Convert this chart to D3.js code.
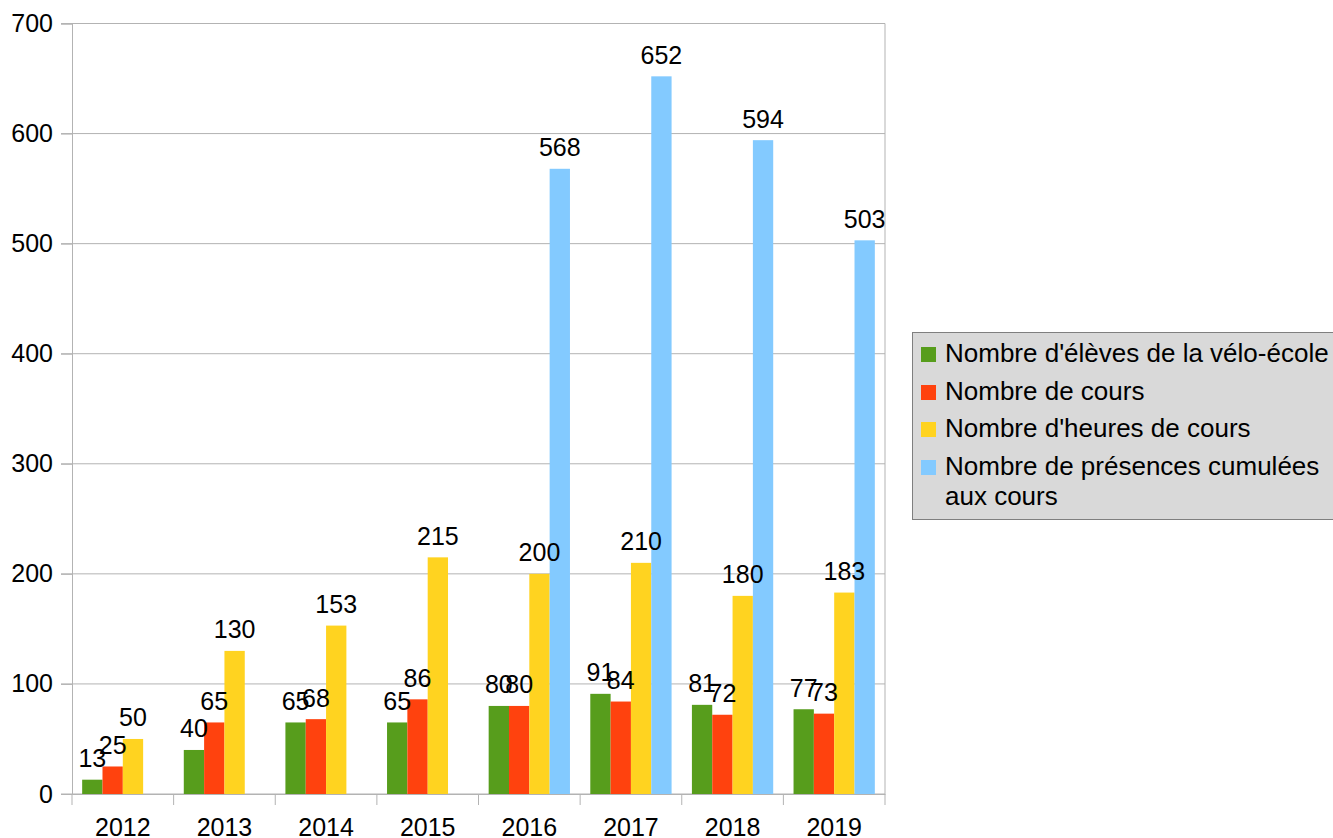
<!DOCTYPE html>
<html><head><meta charset="utf-8">
<script src="https://cdn.jsdelivr.net/npm/d3@7"></script>
<style>body{margin:0;background:#fff}svg{display:block;font-family:"Liberation Sans",Arial,sans-serif}</style>
</head><body><svg id="c" width="1333" height="838"></svg>
<script>
const years = ["2012","2013","2014","2015","2016","2017","2018","2019"];
const eleves = [13,40,65,65,80,91,81,77];
const cours = [25,65,68,86,80,84,72,73];
const heures = [50,130,153,215,200,210,180,183];
const presences = [null,null,null,null,568,652,594,503];
const seriesNames = ["Nombre d'élèves de la vélo-école","Nombre de cours","Nombre d'heures de cours","Nombre de présences cumulées aux cours"];
const colors = ["#579d1c","#ff420e","#ffd320","#83caff"];
const yTicks = [0,100,200,300,400,500,600,700];

const series = [eleves,cours,heures,presences];
const svg = d3.select("#c");
const L=72, R=885, T=23.5, B=794;
const FS=25;
const x = d3.scaleBand().domain(years).range([L,R]).paddingInner(0).paddingOuter(0);
const inner = d3.scaleBand().domain(d3.range(4)).range([0,x.bandwidth()]).paddingOuter(0.5).paddingInner(0);
const y = d3.scaleLinear().domain([0,700]).range([B,T]);
const grid="#b3b3b3";

svg.append("g").selectAll("line").data(yTicks).join("line")
  .attr("x1",L-11).attr("x2",R).attr("y1",d=>y(d)).attr("y2",d=>y(d))
  .attr("stroke",grid).attr("stroke-width",1);
svg.append("line").attr("x1",R).attr("x2",R).attr("y1",T).attr("y2",B).attr("stroke",grid);

const yAx = svg.append("g").attr("transform",`translate(${L},0)`)
  .call(d3.axisLeft(y).tickValues(yTicks).tickSize(11).tickPadding(8));
yAx.select(".domain").attr("stroke",grid);
yAx.selectAll(".tick line").attr("stroke",grid);
yAx.selectAll("text").attr("font-size",FS).attr("fill","#000").attr("font-family","Liberation Sans, Arial, sans-serif");

const xAx = svg.append("g").attr("transform",`translate(0,${B})`)
  .call(d3.axisBottom(x).tickSize(0).tickPadding(24));
xAx.select(".domain").attr("stroke",grid);
xAx.selectAll("text").attr("font-size",FS).attr("fill","#000").attr("font-family","Liberation Sans, Arial, sans-serif").attr("dy","0.71em");
svg.append("g").selectAll("line").data(d3.range(years.length+1)).join("line")
  .attr("x1",i=>L+i*x.step()).attr("x2",i=>L+i*x.step()).attr("y1",B).attr("y2",B+11)
  .attr("stroke",grid);

const barLayer = svg.append("g");
const labelLayer = svg.append("g");
series.forEach((vals,si)=>{
  const data = years.map((yr,i)=>({yr,v:vals[i]})).filter(d=>d.v!=null);
  barLayer.append("g").selectAll("rect").data(data).join("rect")
    .attr("x",d=>x(d.yr)+inner(si)).attr("width",inner.bandwidth())
    .attr("y",d=>y(d.v)).attr("height",d=>B-y(d.v)).attr("fill",colors[si]);
  labelLayer.append("g").selectAll("text").data(data).join("text")
    .attr("x",d=>x(d.yr)+inner(si)+inner.bandwidth()/2).attr("y",d=>y(d.v)-12.5)
    .attr("text-anchor","middle").attr("font-size",FS).attr("fill","#000").text(d=>d.v);
});

const lg = svg.append("g");
lg.append("rect").attr("x",912.5).attr("y",332.5).attr("width",430).attr("height",187)
  .attr("fill","#d9d9d9").attr("stroke","#7f7f7f").attr("stroke-width",1);
const rowsY=[362,400,437,475];
seriesNames.forEach((n,i)=>{
  lg.append("rect").attr("x",921).attr("y",rowsY[i]-15).attr("width",15).attr("height",15).attr("fill",colors[i]);
  const t = lg.append("text").attr("x",945).attr("y",rowsY[i]).attr("font-size",26).attr("fill","#000");
  if(i===3){
    t.append("tspan").attr("x",945).text("Nombre de présences cumulées");
    t.append("tspan").attr("x",945).attr("dy",30).text("aux cours");
  } else t.text(n);
});
</script></body></html>
